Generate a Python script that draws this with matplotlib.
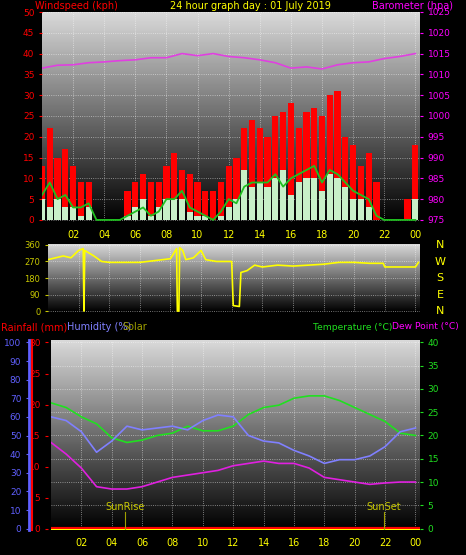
import numpy as np
import matplotlib
matplotlib.use('Agg')
import matplotlib.pyplot as plt

# wind speed (kph), half-hourly
wind_t = [i * 0.5 for i in range(49)]
gust = [13, 22, 15, 17, 13, 9, 9, 0, 0, 0, 0, 7, 9, 11, 9, 9, 13, 16, 12, 11, 9, 7, 7, 9,
        13, 15, 22, 24, 22, 20, 25, 26, 28, 22, 26, 27, 25, 30, 31, 20, 18, 13, 16, 9, 0, 0, 0, 5, 18]
avg_wind = [6, 9, 5, 6, 3, 3, 4, 0, 0, 0, 0, 1, 2, 3, 1, 2, 5, 5, 7, 3, 2, 1, 0, 2,
            5, 4, 8, 9, 9, 9, 11, 8, 10, 11, 12, 13, 9, 12, 11, 9, 7, 6, 5, 1, 0, 0, 0, 0, 0]
wind = [5, 3, 5, 3, 3, 1, 3, 0, 0, 0, 0, 1, 3, 5, 1, 3, 5, 5, 5, 2, 1, 1, 0, 1,
        3, 5, 12, 8, 9, 8, 10, 12, 6, 9, 10, 10, 7, 11, 10, 8, 5, 5, 3, 0, 0, 0, 0, 0, 5]

hours = list(range(25))
baro = [1011.5, 1012.2, 1012.3, 1012.8, 1013, 1013.3, 1013.5, 1014, 1014, 1015, 1014.5, 1015, 1014.3,
        1014, 1013.5, 1012.8, 1011.5, 1011.8, 1011.3, 1012.3, 1012.8, 1013, 1013.8, 1014.3, 1015]

dir_t = [0, 0.5, 1, 1.5, 2, 2.3, 2.35, 2.4, 3, 3.5, 4, 6, 7, 8, 8.4, 8.45, 8.55, 8.6, 8.8, 9, 9.5, 10,
         10.3, 11, 12, 12.1, 12.5, 12.6, 13, 13.5, 14, 15, 16, 17, 18, 19, 20, 21, 21.9, 22, 24, 24.2]
wind_dir = [280, 290, 300, 290, 330, 340, 0, 330, 300, 270, 265, 265, 275, 285, 340, 0, 0, 345, 330, 280,
            290, 330, 280, 270, 270, 30, 25, 210, 220, 250, 240, 250, 245, 250, 255, 265, 265, 260, 260, 240, 240, 265]

temp = [27, 26, 24, 22.5, 19.5, 18.5, 19, 20, 20.5, 22, 21, 21, 22, 24.5, 26, 26.5, 28, 28.5, 28.5,
        27.5, 26, 24.5, 23, 20.5, 20]
humidity = [60, 58, 52, 41, 47, 55, 53, 54, 55, 53, 58, 61, 60, 50, 47, 46, 42, 39, 35, 37, 37, 39, 44, 52, 54]
dew = [18.5, 16, 13, 9, 8.5, 8.5, 9, 10, 11, 11.5, 12, 12.5, 13.5, 14, 14.5, 14, 14, 13, 11, 10.5, 10, 9.5,
       9.8, 10, 10]

xticks = list(range(2, 25, 2))
xlabels = ['%02d' % (h % 24) for h in xticks]

W, H = 466, 555
fig = plt.figure(figsize=(W / 100, H / 100), dpi=100, facecolor='black')


def box(l, t, r, b):
    return [l / W, 1 - b / H, (r - l) / W, (b - t) / H]


def style(ax, xmax=24.3, labels=True):
    ax.set_facecolor('black')
    ax.imshow(np.linspace(0.85, 0.0, 100).reshape(-1, 1), cmap='gray', vmin=0, vmax=1, aspect='auto',
              extent=[0, 1, 0, 1], transform=ax.transAxes, zorder=0)
    ax.set_xlim(0, xmax)
    ax.set_xticks(xticks)
    ax.set_xticklabels(xlabels if labels else [], color='yellow', fontsize=7)
    ax.grid(True, color='white', ls=':', lw=0.6, alpha=0.6)
    for s in ax.spines.values():
        s.set_visible(False)
    ax.tick_params(length=2, labelsize=7)


# top: wind + barometer
ax1 = fig.add_axes(box(42, 12, 420, 222))
style(ax1)
ax1.set_ylim(-0.5, 50)
ax1.set_yticks(range(0, 51, 5))
ax1.tick_params(axis='y', colors='red', labelsize=6.5)
ax1.bar(wind_t, gust, width=0.4, color='red', zorder=2)
ax1.bar(wind_t, wind, width=0.4, color='#c8f0c8', zorder=3)
ax1.plot(wind_t, avg_wind, color='#20c020', lw=1.3, zorder=4)
ax1b = ax1.twinx()
ax1b.set_ylim(974.5, 1025)
ax1b.set_yticks(range(975, 1026, 5))
ax1b.tick_params(axis='y', colors='magenta', labelsize=6.5, length=2)
for s in ax1b.spines.values():
    s.set_visible(False)
ax1b.plot(hours, baro, color='#e040e0', lw=1.2)
fig.text(35 / W, 1 - 6 / H, 'Windspeed (kph)', color='red', fontsize=7, va='center')
fig.text(250 / W, 1 - 6 / H, '24 hour graph day : 01 July 2019', color='yellow', fontsize=7,
         va='center', ha='center')
fig.text(372 / W, 1 - 6 / H, 'Barometer (hpa)', color='magenta', fontsize=7, va='center')

# middle: wind direction
ax2 = fig.add_axes(box(48, 244, 420, 312))
style(ax2, labels=False)
ax2.set_ylim(-5, 365)
ax2.set_yticks([0, 90, 180, 270, 360])
ax2.tick_params(axis='y', colors='#c8c800', labelsize=6)
ax2.tick_params(axis='x', length=0)
ax2.plot(dir_t, wind_dir, color='yellow', lw=1.2)
for i, c in enumerate('NWSEN'):
    fig.text(440 / W, 1 - (245 + i * 16.5) / H, c, color='yellow', fontsize=8, ha='center', va='center')

# bottom: temperature, humidity, dew point
ax3 = fig.add_axes(box(51, 340, 420, 530))
style(ax3)
ax3.set_ylim(-0.3, 40.5)
ax3.yaxis.tick_right()
ax3.set_yticks(range(0, 41, 5))
ax3.tick_params(axis='y', colors='#20e020', labelsize=6.5)
ax3.plot(hours, temp, color='#20e020', lw=1.2, zorder=4)
ax3.plot(hours, dew, color='#e020e0', lw=1.2, zorder=4)
ax3.plot(hours, [h * 0.4 for h in humidity], color='#8080ff', lw=1.2, zorder=4)
ax3.axhline(0, color='red', lw=3, zorder=5)
ax3.axhline(-0.25, color='yellow', lw=1.5, zorder=5)
for x, lab in [(4.9, 'SunRise'), (21.9, 'SunSet')]:
    ax3.plot([x, x], [0, 3.5], color='#a0a000', lw=0.8, zorder=5)
    ax3.text(x, 4, lab, color='#c8c800', fontsize=7, ha='center', zorder=5)

# rain scale (labels between the blue and red lines)
axr = fig.add_axes(box(48, 340, 50, 530))
axr.set_facecolor('black')
axr.set_ylim(-0.2, 30.4)
axr.set_xticks([])
axr.set_yticks(range(0, 31, 5))
axr.tick_params(axis='y', colors='red', labelsize=6.5, length=2)
for s in axr.spines.values():
    s.set_visible(False)

# humidity scale with blue and red bars
axh = fig.add_axes(box(29, 340, 32, 530))
axh.set_facecolor('black')
axh.set_ylim(-0.7, 101.3)
axh.set_xticks([])
axh.set_yticks(range(0, 101, 10))
axh.tick_params(axis='y', colors='#6060ff', labelsize=6.5, length=2)
for k, s in axh.spines.items():
    s.set_visible(k in ('left', 'right'))
axh.spines['left'].set_color('#6060ff')
axh.spines['left'].set_linewidth(2)
axh.spines['right'].set_color('red')
axh.spines['right'].set_linewidth(1.5)

fig.text(1 / W, 1 - 327 / H, 'Rainfall (mm)', color='red', fontsize=7, va='center')
fig.text(67 / W, 1 - 327 / H, 'Humidity (%)', color='#8080ff', fontsize=7, va='center')
fig.text(122 / W, 1 - 327 / H, 'Solar', color='#a0a000', fontsize=7, va='center')
fig.text(313 / W, 1 - 327 / H, 'Temperature (\u00b0C)', color='#20e020', fontsize=6.6, va='center')
fig.text(392 / W, 1 - 327 / H, 'Dew Point (\u00b0C)', color='magenta', fontsize=6.6, va='center')

fig.savefig('out.png', dpi=100, facecolor='black')
